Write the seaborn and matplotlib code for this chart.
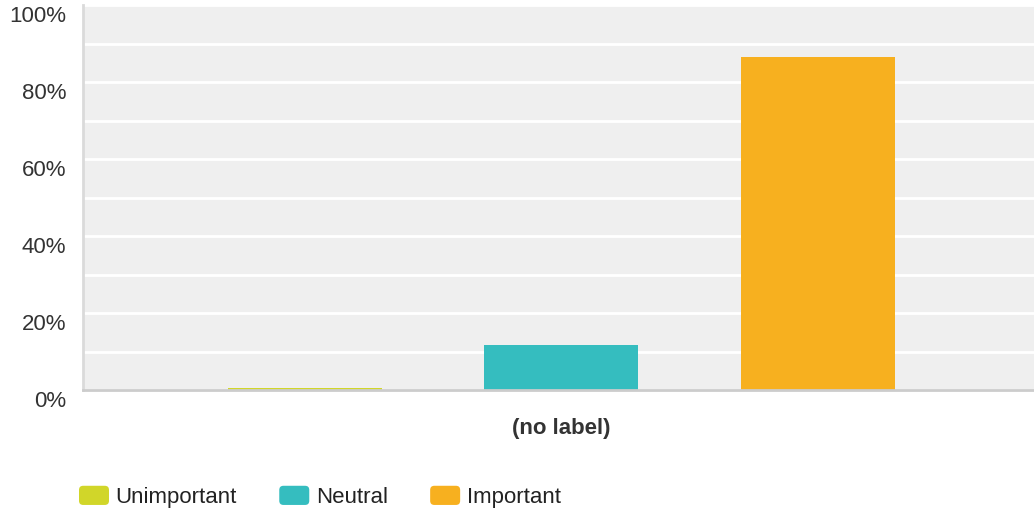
import matplotlib
matplotlib.use('Agg')
import matplotlib.pyplot as plt
import matplotlib.transforms as mtransforms
from matplotlib.ticker import MultipleLocator, PercentFormatter
from matplotlib.legend_handler import HandlerPatch
from matplotlib.patches import FancyBboxPatch
import seaborn as sns
import pandas as pd

# 응답 분포 (%)
category = ['(no label)']
answers = ['Unimportant', 'Neutral', 'Important']
share = [0.6, 11.7, 86.5]
colors = ['#D1D629', '#35BDBF', '#F7B01F']

df = pd.DataFrame({'group': category * len(answers), 'answer': answers, 'share': share})

sns.set_theme(style='white')
plt.rcParams['font.family'] = ['Liberation Sans', 'DejaVu Sans']

fig = plt.figure(figsize=(10.34, 5.12), dpi=100)
ax = fig.add_axes([83 / 1034, 1 - 390 / 512, 1 - 83 / 1034, 385 / 512])
ax.set_facecolor('#EFEFEF')

sns.barplot(data=df, x='group', y='share', hue='answer', hue_order=answers,
            palette=colors, width=0.81, gap=0.4, saturation=1, linewidth=0,
            ax=ax, legend=True)

ax.set_xlim(-0.503, 0.497)
ax.set_ylim(0, 100)
ax.yaxis.set_major_locator(MultipleLocator(20))
ax.yaxis.set_minor_locator(MultipleLocator(10))
ax.yaxis.set_major_formatter(PercentFormatter(decimals=0))
ax.grid(axis='y', which='both', color='white', linewidth=2)
ax.set_axisbelow(True)

ax.tick_params(axis='y', length=0, labelsize=16, labelcolor='#333333', pad=12)
ax.tick_params(axis='x', length=0, labelsize=16, labelcolor='#333333', pad=20)
for lab in ax.get_xticklabels():
    lab.set_fontweight('bold')
# 라벨을 조금 아래로
off = mtransforms.ScaledTranslation(0, -9 / 100, fig.dpi_scale_trans)
for lab in ax.get_yticklabels():
    lab.set_transform(lab.get_transform() + off)

ax.set_xlabel('')
ax.set_ylabel('')

for s in ['top', 'right']:
    ax.spines[s].set_visible(False)
ax.spines['left'].set_color('#DADADA')
ax.spines['left'].set_linewidth(2)
ax.spines['bottom'].set_color('#CCCCCC')
ax.spines['bottom'].set_linewidth(2)


# 범례 - 둥근 사각형
def round_box(legend, orig_handle, xdescent, ydescent, width, height, fontsize):
    return FancyBboxPatch((-xdescent, -ydescent), width, height,
                          boxstyle='round,pad=0,rounding_size=3')


ax.get_legend().remove()
handles, labels = ax.get_legend_handles_labels()
fig.legend(handles, labels, loc='lower left', bbox_to_anchor=(79 / 1034, 4 / 512),
           ncol=3, frameon=False, fontsize=16, handlelength=1.35, handleheight=0.95,
           handletextpad=0.3, columnspacing=1.9, borderpad=0, borderaxespad=0,
           labelcolor='#222222',
           handler_map={h: HandlerPatch(patch_func=round_box) for h in handles})

fig.savefig('out.png', dpi=100)
